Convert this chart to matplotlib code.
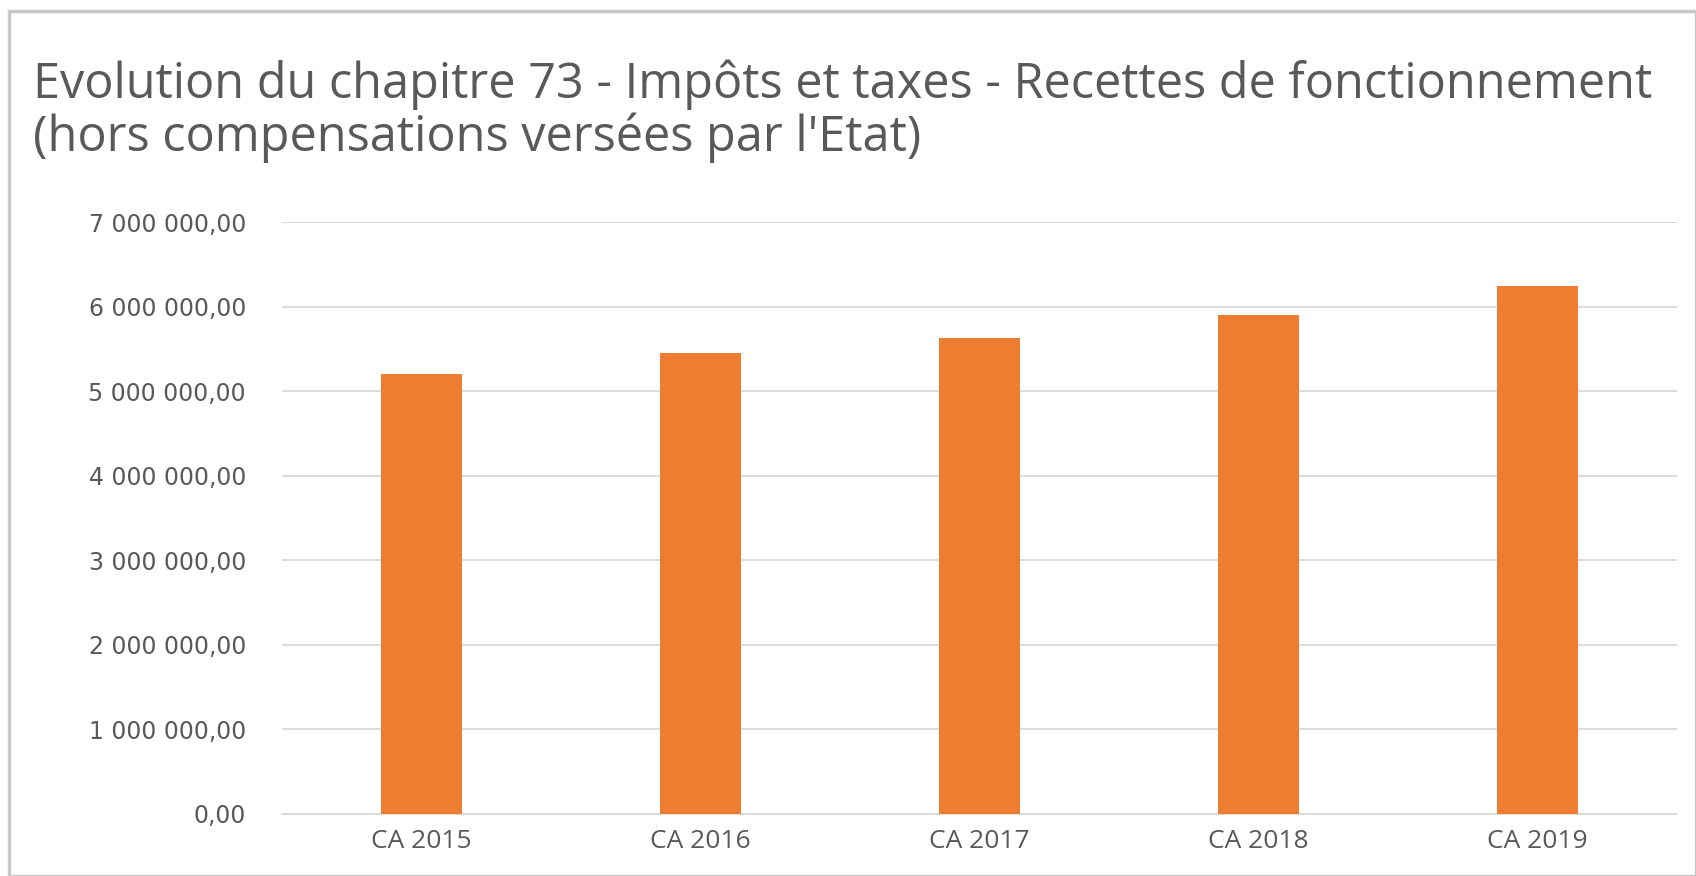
import matplotlib.pyplot as plt
from matplotlib.patches import Rectangle
from matplotlib.ticker import FuncFormatter

# valeurs (CA = compte administratif)
annees = ["CA 2015", "CA 2016", "CA 2017", "CA 2018", "CA 2019"]
montants = [5200000, 5454000, 5627000, 5896000, 6242000]
graduations = [0, 1000000, 2000000, 3000000, 4000000, 5000000, 6000000, 7000000]

titre = ("Evolution du chapitre 73 - Impôts et taxes - Recettes de fonctionnement\n"
         "(hors compensations versées par l'Etat)")

gris = "#595959"
orange = "#ED7D31"

fig = plt.figure(figsize=(16.96, 8.76), dpi=100)
ax = fig.add_axes([282 / 1696, 1 - 814 / 876, (1677 - 282) / 1696, (814 - 222) / 876])

x = range(len(annees))
ax.bar(x, montants, width=0.29, color=orange, zorder=3)

ax.set_xlim(-0.5, len(annees) - 0.5)
ax.set_ylim(0, 7000000)
ax.set_yticks(graduations)


def format_fr(v, pos):
    return f"{v:,.2f}".replace(",", " ").replace(".", ",")


ax.yaxis.set_major_formatter(FuncFormatter(format_fr))
ax.set_xticks(list(x))
ax.set_xticklabels(annees)

ax.grid(axis="y", color="#D9D9D9", linewidth=1.3, zorder=0)
for side in ["top", "right", "left"]:
    ax.spines[side].set_visible(False)
ax.spines["bottom"].set_color("#D9D9D9")
ax.spines["bottom"].set_linewidth(1.3)
ax.tick_params(axis="both", length=0, colors=gris)
ax.tick_params(axis="y", pad=26, labelsize=17)
ax.tick_params(axis="x", pad=11, labelsize=19)
for lab in ax.get_xticklabels():
    lab.set_family("Open Sans")
for lab in ax.get_yticklabels():
    lab.set_family("DejaVu Sans")

fig.text(33 / 1696, 1 - 60 / 876, titre, ha="left", va="top", fontsize=35,
         color=gris, family="Open Sans", linespacing=1.05)

# cadre du graphique
fig.patches.append(Rectangle((9 / 1696, 0), 1 - 9 / 1696, 1 - 11 / 876,
                             transform=fig.transFigure, fill=False,
                             edgecolor="#C8C8C8", linewidth=2.5))

fig.savefig("out.png")
